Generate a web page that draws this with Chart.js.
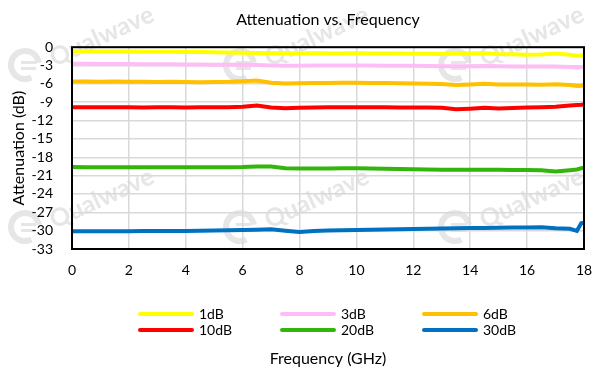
<!DOCTYPE html>
<html>
<head>
<meta charset="utf-8">
<script src="https://cdn.jsdelivr.net/npm/chart.js@4/dist/chart.umd.min.js"></script>
<style>
  body { margin: 0; background: #fff; }
  #wrap { position: relative; width: 592px; height: 372px; }
  #legend { position: absolute; left: 0; top: 0; width: 592px; height: 372px; pointer-events: none;
            font-family: Lato, sans-serif; font-size: 14px; color: #000; }
  .item { position: absolute; height: 16px; line-height: 16px; white-space: nowrap; }
  .item span.swatch { display: inline-block; width: 56px; height: 4px; border-radius: 2px;
                      vertical-align: middle; margin-right: 5px; margin-top: -2px; }
</style>
</head>
<body>
<div id="wrap">
  <canvas id="attChart" width="592" height="372"></canvas>
  <div id="legend"></div>
</div>
<script>
var freq = [0, 0.5, 1, 1.5, 2, 2.5, 3, 3.5, 4, 4.5, 5, 5.5, 6, 6.5, 7, 7.5, 8, 8.5, 9, 9.5,
            10, 10.5, 11, 11.5, 12, 12.5, 13, 13.5, 14, 14.5, 15, 15.5, 16, 16.5, 17, 17.5, 17.75, 17.9, 18];

var att1dB = [-0.65, -0.68, -0.70, -0.69, -0.72, -0.73, -0.75, -0.74, -0.77, -0.79, -0.82, -0.86, -0.90, -0.93, -0.97, -1.00, -1.02, -1.00, -1.01, -1.03,
              -1.00, -1.02, -1.05, -1.04, -1.07, -1.08, -1.10, -1.08, -1.03, -0.98, -1.12, -1.16, -1.22, -1.18, -1.05, -1.22, -1.40, -1.35, -1.25];
var att3dB = [-2.70, -2.72, -2.74, -2.75, -2.76, -2.78, -2.80, -2.79, -2.82, -2.84, -2.85, -2.86, -2.88, -2.92, -2.98, -3.05, -3.02, -3.00, -3.01, -3.00,
              -2.98, -3.00, -3.02, -3.04, -3.05, -3.08, -3.10, -3.12, -3.10, -3.08, -3.12, -3.14, -3.15, -3.16, -3.15, -3.22, -3.30, -3.25, -3.22];
var att6dB = [-5.60, -5.62, -5.63, -5.62, -5.65, -5.66, -5.68, -5.66, -5.70, -5.72, -5.70, -5.66, -5.55, -5.45, -5.80, -5.92, -5.90, -5.86, -5.84, -5.82,
              -5.80, -5.84, -5.86, -5.90, -5.92, -5.96, -6.02, -6.20, -6.08, -5.96, -6.10, -6.12, -6.10, -6.14, -6.05, -6.18, -6.35, -6.30, -6.22];
var att10dB = [-9.80, -9.82, -9.83, -9.82, -9.84, -9.85, -9.84, -9.83, -9.85, -9.84, -9.82, -9.80, -9.72, -9.52, -9.85, -9.98, -9.92, -9.88, -9.84, -9.82,
               -9.80, -9.82, -9.84, -9.85, -9.86, -9.88, -9.90, -10.15, -10.05, -9.90, -10.02, -9.95, -9.88, -9.80, -9.72, -9.55, -9.45, -9.40, -9.35];
var att20dB = [-19.60, -19.62, -19.63, -19.62, -19.63, -19.62, -19.63, -19.64, -19.63, -19.62, -19.63, -19.62, -19.60, -19.52, -19.50, -19.80, -19.85, -19.84, -19.82, -19.80,
               -19.80, -19.82, -19.86, -19.90, -19.96, -20.00, -20.02, -20.04, -20.03, -20.05, -20.06, -20.08, -20.10, -20.14, -20.32, -20.12, -20.00, -19.80, -19.70];
var att30dB = [-30.10, -30.10, -30.09, -30.10, -30.08, -30.07, -30.06, -30.05, -30.04, -30.02, -29.98, -29.94, -29.90, -29.86, -29.78, -30.00, -30.22, -30.05, -29.98, -29.95,
               -29.90, -29.86, -29.82, -29.78, -29.72, -29.68, -29.65, -29.62, -29.58, -29.55, -29.52, -29.50, -29.50, -29.46, -29.62, -29.70, -30.05, -28.80, -28.70];

var seriesNames = ['1dB', '3dB', '6dB', '10dB', '20dB', '30dB'];
var seriesValues = [att1dB, att3dB, att6dB, att10dB, att20dB, att30dB];
var seriesColors = ['#FFFF00', '#FFBDF6', '#FFC000', '#FF0000', '#33B50C', '#0070C0'];

var yTicks = [0, -3, -6, -9, -12, -15, -18, -21, -24, -27, -30, -33];
var xTicks = [0, 2, 4, 6, 8, 10, 12, 14, 16, 18];

function toPoints(vals) {
    return vals.map(function (v, i) { return { x: freq[i], y: v }; });
}

// faint company watermark behind the plot
var watermark = {
    id: 'watermark',
    beforeDraw: function (chart) {
        var ctx = chart.ctx;
        var spots = [[25, 65], [240, 65], [455, 65], [25, 227], [240, 227], [455, 227]];
        ctx.save();
        ctx.fillStyle = '#e6e6e6';
        ctx.strokeStyle = '#e6e6e6';
        spots.forEach(function (p) {
            ctx.save();
            ctx.translate(p[0], p[1]);
            ctx.lineWidth = 6;
            ctx.beginPath();
            ctx.arc(0, 0, 14, 0.35 * Math.PI, 1.95 * Math.PI);
            ctx.stroke();
            ctx.fillRect(-4, -4, 15, 3);
            ctx.fillRect(-4, 2, 15, 3);
            ctx.rotate(-0.43);
            ctx.font = 'bold 25px Lato, sans-serif';
            ctx.textBaseline = 'middle';
            ctx.fillText('Qualwave', 26, 6);
            ctx.restore();
        });
        ctx.restore();
    }
};

// black frame round the plot area
var frame = {
    id: 'frame',
    afterDatasetsDraw: function (chart) {
        var a = chart.chartArea;
        var ctx = chart.ctx;
        ctx.save();
        ctx.strokeStyle = '#000';
        ctx.lineWidth = 2;
        ctx.strokeRect(a.left, a.top, a.right - a.left, a.bottom - a.top);
        ctx.restore();
    }
};

var datasets = seriesNames.map(function (name, i) {
    return {
        label: name,
        data: toPoints(seriesValues[i]),
        borderColor: seriesColors[i],
        backgroundColor: seriesColors[i],
        borderWidth: 4,
        pointRadius: 0,
        tension: 0
    };
});

var ctx = document.getElementById('attChart').getContext('2d');
var attChart = new Chart(ctx, {
    type: 'line',
    data: { datasets: datasets },
    options: {
        responsive: false,
        animation: false,
        devicePixelRatio: 1,
        layout: { padding: { left: 0, right: 0, top: 0, bottom: 0 } },
        plugins: {
            legend: { display: false },
            tooltip: { enabled: false },
            title: {
                display: true,
                text: 'Attenuation vs. Frequency',
                fullSize: false,
                color: '#000',
                font: { family: 'Lato', size: 16, weight: 'normal' },
                padding: { top: 10, bottom: 18 }
            }
        },
        scales: {
            x: {
                type: 'linear',
                min: 0,
                max: 18,
                afterBuildTicks: function (s) { s.ticks = xTicks.map(function (v) { return { value: v }; }); },
                afterFit: function (s) { s.paddingRight = 8; s.paddingLeft = 0; },
                ticks: { color: '#000', padding: 13, autoSkip: false, maxRotation: 0, font: { family: 'Lato', size: 14 } },
                grid: { color: '#d9d9d9', lineWidth: 1.5, drawTicks: false },
                border: { display: false },
                title: {
                    display: true,
                    text: 'Frequency (GHz)',
                    color: '#000',
                    font: { family: 'Lato', size: 16 },
                    padding: { top: 57, bottom: 4 }
                }
            },
            y: {
                min: -33,
                max: 0,
                afterBuildTicks: function (s) { s.ticks = yTicks.map(function (v) { return { value: v }; }); },
                afterFit: function (s) { s.width = 72; },
                ticks: { color: '#000', padding: 19, autoSkip: false, font: { family: 'Lato', size: 14 } },
                grid: { color: '#d9d9d9', lineWidth: 1.5, drawTicks: false },
                border: { display: false },
                title: {
                    display: true,
                    text: 'Attenuation (dB)',
                    color: '#000',
                    font: { family: 'Lato', size: 16 },
                    padding: { top: 9, bottom: 0 }
                }
            }
        }
    },
    plugins: [watermark, frame]
});

// legend laid out in three aligned columns, as in the original figure
function buildLegend(chart) {
    var box = document.getElementById('legend');
    chart.data.datasets.forEach(function (ds, i) {
        var col = i % 3;
        var row = Math.floor(i / 3);
        var item = document.createElement('div');
        item.className = 'item';
        item.style.left = (138 + col * 142) + 'px';
        item.style.top = (306 + row * 16) + 'px';
        var sw = document.createElement('span');
        sw.className = 'swatch';
        sw.style.background = ds.borderColor;
        item.appendChild(sw);
        item.appendChild(document.createTextNode(ds.label));
        box.appendChild(item);
    });
}
buildLegend(attChart);
</script>
</body>
</html>
